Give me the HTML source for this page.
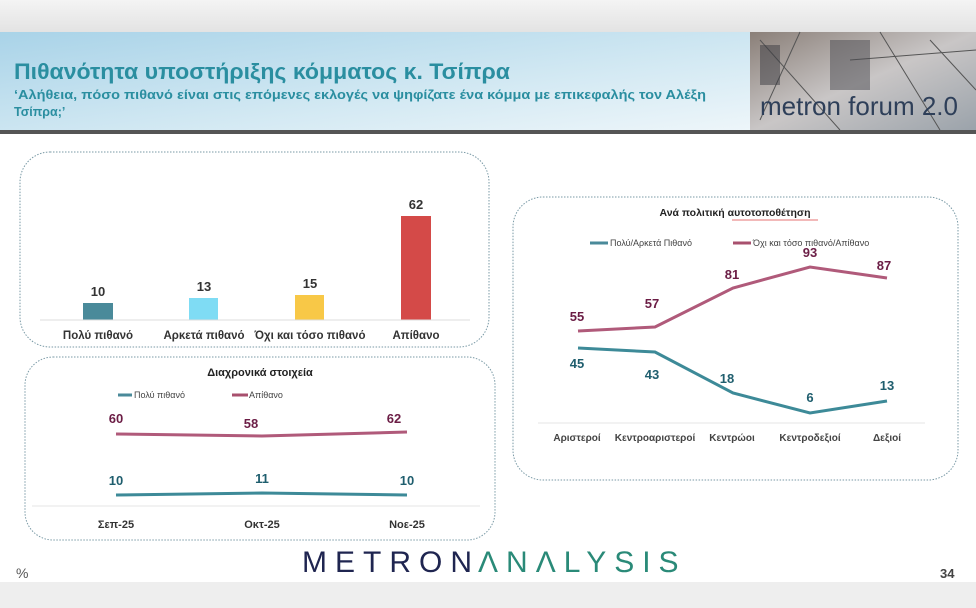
<!DOCTYPE html>
<html><head><meta charset="utf-8"><style>
body{margin:0;width:976px;height:608px;overflow:hidden;background:#fff;font-family:"Liberation Sans","DejaVu Sans",sans-serif;}
</style></head><body>
<svg width="976" height="608" xmlns="http://www.w3.org/2000/svg" style="position:absolute;left:0;top:0">
<defs>
<linearGradient id="top" x1="0" y1="0" x2="0" y2="1"><stop offset="0" stop-color="#f4f4f4"/><stop offset="1" stop-color="#e2e2e2"/></linearGradient>
<linearGradient id="hdr" x1="0" y1="0" x2="1" y2="1"><stop offset="0" stop-color="#a9d3e8"/><stop offset="0.6" stop-color="#d3e9f3"/><stop offset="1" stop-color="#eef6fa"/></linearGradient>
<linearGradient id="pic" x1="0" y1="0" x2="1" y2="1"><stop offset="0" stop-color="#8a7f78"/><stop offset="0.5" stop-color="#c9c6c6"/><stop offset="1" stop-color="#9aa2aa"/></linearGradient>
</defs>
<rect width="976" height="34" fill="url(#top)"/>
<rect y="32" width="750" height="100" fill="url(#hdr)"/>
<rect x="750" y="32" width="226" height="100" fill="url(#pic)"/>
<path d="M760 40 L840 130 M800 32 L760 120 M880 32 L940 130 M930 40 L976 90 M850 60 L976 50" stroke="#555" stroke-width="1" fill="none"/>
<rect x="830" y="40" width="40" height="50" fill="#4a4a50" opacity="0.5"/>
<rect x="760" y="45" width="20" height="40" fill="#3a3a40" opacity="0.5"/>
<text x="760" y="115" font-size="26" fill="#2e3f59">metron forum 2.0</text>
<rect y="130" width="976" height="4" fill="#555"/>
<text x="14" y="79" font-size="22" font-weight="bold" fill="#2a8ea0" textLength="496" lengthAdjust="spacingAndGlyphs">Πιθανότητα υποστήριξης κόμματος κ. Τσίπρα</text>
<text x="14" y="99" font-size="12.5" font-weight="bold" fill="#2a8ea0" textLength="692" lengthAdjust="spacingAndGlyphs">‘Αλήθεια, πόσο πιθανό είναι στις επόμενες εκλογές να ψηφίζατε ένα κόμμα με επικεφαλής τον Αλέξη</text>
<text x="14" y="116" font-size="12.5" font-weight="bold" fill="#2a8ea0">Τσίπρα;’</text>
<rect y="582" width="976" height="26" fill="#eeeeee"/>

<!-- bar box -->
<rect x="20" y="152" width="469" height="195" rx="30" fill="none" stroke="#7a9aa6" stroke-dasharray="1.5 1.5"/>
<rect x="83" y="303" width="30" height="17" fill="#4a8a9a"/>
<rect x="189" y="298" width="29" height="22" fill="#7fdcf4"/>
<rect x="295" y="295" width="29" height="25" fill="#f8c847"/>
<rect x="401" y="216" width="30" height="104" fill="#d44a48"/>
<line x1="40" y1="320" x2="470" y2="320" stroke="#ddd"/>
<g font-size="13" font-weight="bold" fill="#333" text-anchor="middle">
<text x="98" y="296">10</text><text x="204" y="291">13</text><text x="310" y="288">15</text><text x="416" y="209">62</text></g>
<g font-size="11.5" font-weight="bold" fill="#333" text-anchor="middle">
<text x="98" y="339">Πολύ πιθανό</text><text x="204" y="339">Αρκετά πιθανό</text><text x="310" y="339">Όχι και τόσο πιθανό</text><text x="416" y="339">Απίθανο</text></g>

<!-- lower left box -->
<rect x="25" y="357" width="470" height="183" rx="28" fill="none" stroke="#7a9aa6" stroke-dasharray="1.5 1.5"/>
<text x="260" y="376" font-size="11" font-weight="bold" fill="#222" text-anchor="middle">Διαχρονικά στοιχεία</text>
<line x1="118" y1="395" x2="132" y2="395" stroke="#4a8a9a" stroke-width="3"/>
<text x="134" y="398" font-size="9" fill="#444">Πολύ πιθανό</text>
<line x1="232" y1="395" x2="248" y2="395" stroke="#a8506e" stroke-width="3"/>
<text x="249" y="398" font-size="9" fill="#444">Απίθανο</text>
<line x1="32" y1="506" x2="480" y2="506" stroke="#e4e4e4"/>
<polyline points="116,434 262,436 407,432" fill="none" stroke="#b05a7a" stroke-width="3"/>
<polyline points="116,495 262,493 407,495" fill="none" stroke="#3d8a98" stroke-width="3"/>
<g font-size="13" font-weight="bold" text-anchor="middle">
<text x="116" y="423" fill="#6b1d45">60</text><text x="251" y="428" fill="#6b1d45">58</text><text x="394" y="423" fill="#6b1d45">62</text>
<text x="116" y="485" fill="#1f5e6e">10</text><text x="262" y="483" fill="#1f5e6e">11</text><text x="407" y="485" fill="#1f5e6e">10</text></g>
<g font-size="11" font-weight="bold" fill="#333" text-anchor="middle"><text x="116" y="528">Σεπ-25</text><text x="262" y="528">Οκτ-25</text><text x="407" y="528">Νοε-25</text></g>

<!-- right box -->
<rect x="513" y="197" width="445" height="283" rx="30" fill="none" stroke="#7a9aa6" stroke-dasharray="1.5 1.5"/>
<text x="735" y="216" font-size="10.5" font-weight="bold" fill="#222" text-anchor="middle">Ανά πολιτική αυτοτοποθέτηση</text>
<line x1="732" y1="220" x2="818" y2="220" stroke="#d44" stroke-width="0.8"/>
<line x1="590" y1="243" x2="608" y2="243" stroke="#4a8a9a" stroke-width="3"/>
<text x="610" y="246" font-size="9" fill="#444">Πολύ/Αρκετά Πιθανό</text>
<line x1="733" y1="243" x2="751" y2="243" stroke="#a8506e" stroke-width="3"/>
<text x="753" y="246" font-size="9" fill="#444">Όχι και τόσο πιθανό/Απίθανο</text>
<line x1="538" y1="423" x2="925" y2="423" stroke="#e4e4e4"/>
<polyline points="578,331 655,327 733,288 810,267 887,278" fill="none" stroke="#b05a7a" stroke-width="3"/>
<polyline points="578,348 655,352 733,393 810,413 887,401" fill="none" stroke="#3d8a98" stroke-width="3"/>
<g font-size="13" font-weight="bold" text-anchor="middle">
<text x="577" y="321" fill="#6b1d45">55</text><text x="652" y="308" fill="#6b1d45">57</text><text x="732" y="279" fill="#6b1d45">81</text><text x="810" y="257" fill="#6b1d45">93</text><text x="884" y="270" fill="#6b1d45">87</text>
<text x="577" y="368" fill="#1f5e6e">45</text><text x="652" y="379" fill="#1f5e6e">43</text><text x="727" y="383" fill="#1f5e6e">18</text><text x="810" y="402" fill="#1f5e6e">6</text><text x="887" y="390" fill="#1f5e6e">13</text></g>
<g font-size="10" font-weight="bold" fill="#444" text-anchor="middle"><text x="577" y="441">Αριστεροί</text><text x="655" y="441">Κεντροαριστεροί</text><text x="732" y="441">Κεντρώοι</text><text x="810" y="441">Κεντροδεξιοί</text><text x="887" y="441">Δεξιοί</text></g>

<text x="302" y="572" font-size="30" fill="#1f2550" letter-spacing="8">METRON</text>
<text x="478" y="572" font-size="30" fill="#2a8a78" letter-spacing="8">ΛNΛLYSIS</text>
<text x="16" y="578" font-size="14" fill="#555">%</text>
<text x="940" y="578" font-size="13" font-weight="bold" fill="#444">34</text>
</svg>
</body></html>
